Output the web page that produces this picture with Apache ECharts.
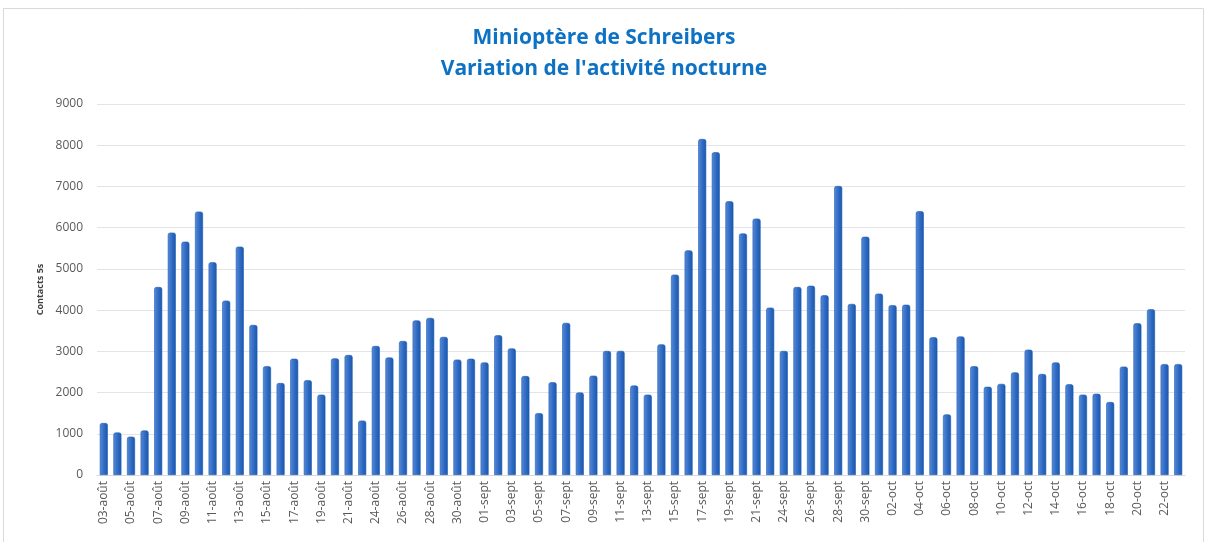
<!DOCTYPE html>
<html>
<head>
<meta charset="utf-8">
<script src="https://cdn.jsdelivr.net/npm/echarts@6/dist/echarts.min.js"></script>
<style>
  html, body { margin: 0; padding: 0; background: #fff; }
  #main { width: 1208px; height: 542px; }
</style>
</head>
<body>
<div id="main"></div>
<script>
// dates (jours manquants : 23-août et 23-sept)
const days = [
  '03-août', '04-août', '05-août', '06-août', '07-août', '08-août', '09-août', '10-août',
  '11-août', '12-août', '13-août', '14-août', '15-août', '16-août', '17-août', '18-août',
  '19-août', '20-août', '21-août', '22-août', '24-août', '25-août', '26-août', '27-août',
  '28-août', '29-août', '30-août', '31-août', '01-sept', '02-sept', '03-sept', '04-sept',
  '05-sept', '06-sept', '07-sept', '08-sept', '09-sept', '10-sept', '11-sept', '12-sept',
  '13-sept', '14-sept', '15-sept', '16-sept', '17-sept', '18-sept', '19-sept', '20-sept',
  '21-sept', '22-sept', '24-sept', '25-sept', '26-sept', '27-sept', '28-sept', '29-sept',
  '30-sept', '01-oct', '02-oct', '03-oct', '04-oct', '05-oct', '06-oct', '07-oct',
  '08-oct', '09-oct', '10-oct', '11-oct', '12-oct', '13-oct', '14-oct', '15-oct',
  '16-oct', '17-oct', '18-oct', '19-oct', '20-oct', '21-oct', '22-oct', '23-oct'
]
// contacts 5s par nuit
const contacts = [
  1260, 1030, 930, 1080, 4560, 5880, 5660, 6390,
  5160, 4230, 5540, 3640, 2640, 2230, 2820, 2300,
  1950, 2830, 2910, 1320, 3130, 2850, 3250, 3750,
  3810, 3350, 2800, 2820, 2730, 3390, 3070, 2400,
  1500, 2250, 3690, 2000, 2410, 3010, 3010, 2170,
  1950, 3170, 4860, 5450, 8150, 7830, 6640, 5860,
  6220, 4060, 3010, 4560, 4590, 4360, 7010, 4150,
  5780, 4400, 4120, 4130, 6400, 3340, 1470, 3360,
  2640, 2140, 2210, 2490, 3040, 2450, 2730, 2200,
  1950, 1970, 1770, 2630, 3680, 4020, 2690, 2690
]
const titleLines = ['Minioptère de Schreibers', "Variation de l'activité nocturne"]

let chart = echarts.init(document.getElementById('main'))
chart.setOption({
  backgroundColor: '#fff',
  animation: false,
  title: {
    text: titleLines.join('\n'),
    left: 'center',
    top: 18,
    textStyle: {
      color: '#0e72c4',
      fontFamily: 'Open Sans',
      fontWeight: 'bold',
      fontSize: 21,
      lineHeight: 31
    }
  },
  graphic: [{
    type: 'rect',
    shape: { x: 3.5, y: 8.5, width: 1200, height: 540 },
    style: { fill: 'none', stroke: '#d9d9d9', lineWidth: 1 }
  }],
  grid: { left: 97, right: 23, top: 104, bottom: 67 },
  xAxis: {
    type: 'category',
    data: days,
    axisLine: { lineStyle: { color: '#d9d9d9' } },
    axisTick: { show: false },
    axisLabel: {
      interval: 1,
      rotate: 90,
      color: '#595959',
      fontFamily: 'Open Sans',
      fontSize: 12,
      margin: 6
    }
  },
  yAxis: {
    type: 'value',
    min: 0,
    max: 9000,
    interval: 1000,
    name: 'Contacts 5s',
    nameLocation: 'middle',
    nameGap: 48,
    nameTextStyle: { color: '#404040', fontSize: 9, fontWeight: 'bold', fontFamily: 'Open Sans' },
    axisLine: { show: false },
    axisTick: { show: false },
    axisLabel: {
      color: '#595959',
      fontFamily: 'Open Sans',
      fontSize: 12,
      margin: 14,
      formatter: v => String(v)
    },
    splitLine: { lineStyle: { color: '#e3e3ea', width: 1 } }
  },
  series: [{
    type: 'bar',
    data: contacts,
    barWidth: 8,
    itemStyle: {
      borderRadius: [2, 2, 0, 0],
      borderColor: '#1d5fb5',
      borderWidth: 0.6,
      color: new echarts.graphic.LinearGradient(0, 0, 1, 0, [
        { offset: 0, color: '#5b8ad6' },
        { offset: 0.45, color: '#3570c8' },
        { offset: 1, color: '#1a55ab' }
      ])
    }
  }]
})
window.onresize = chart.resize
</script>
</body>
</html>
